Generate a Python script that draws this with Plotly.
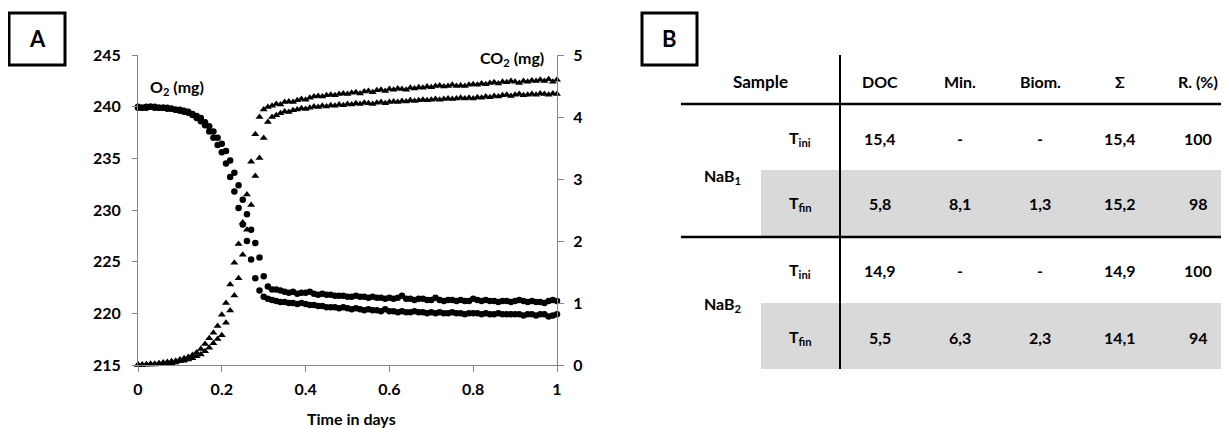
import plotly.graph_objects as go

W, H = 1229, 428

# ---------------- data ----------------
time_days = [0.00, 0.01, 0.02, 0.03, 0.04, 0.05, 0.06, 0.07, 0.08, 0.09,
             0.10, 0.11, 0.12, 0.13, 0.14, 0.15, 0.16, 0.17, 0.18, 0.19,
             0.20, 0.21, 0.22, 0.23, 0.24, 0.25, 0.26, 0.27, 0.28, 0.29,
             0.30, 0.31, 0.32, 0.33, 0.34, 0.35, 0.36, 0.37, 0.38, 0.39,
             0.40, 0.41, 0.42, 0.43, 0.44, 0.45, 0.46, 0.47, 0.48, 0.49,
             0.50, 0.51, 0.52, 0.53, 0.54, 0.55, 0.56, 0.57, 0.58, 0.59,
             0.60, 0.61, 0.62, 0.63, 0.64, 0.65, 0.66, 0.67, 0.68, 0.69,
             0.70, 0.71, 0.72, 0.73, 0.74, 0.75, 0.76, 0.77, 0.78, 0.79,
             0.80, 0.81, 0.82, 0.83, 0.84, 0.85, 0.86, 0.87, 0.88, 0.89,
             0.90, 0.91, 0.92, 0.93, 0.94, 0.95, 0.96, 0.97, 0.98, 0.99,
             1.00]

o2_rep1 = [239.9, 239.9, 239.9, 240.0, 239.9, 239.9, 239.9, 239.8, 239.8, 239.7,
           239.6, 239.5, 239.4, 239.2, 238.9, 238.6, 238.2, 237.6, 237.0, 236.3,
           235.6, 234.5, 233.2, 231.8, 230.2, 228.6, 227.0, 225.2, 223.4, 222.2,
           221.6, 221.4, 221.3, 221.2, 221.1, 221.1, 221.0, 221.0, 220.9, 221.0,
           220.9, 220.8, 220.8, 220.7, 220.7, 220.6, 220.6, 220.6, 220.5, 220.6,
           220.5, 220.4, 220.5, 220.4, 220.3, 220.4, 220.3, 220.3, 220.2, 220.4,
           220.2, 220.2, 220.1, 220.2, 220.1, 220.1, 220.2, 220.1, 220.1, 220.0,
           220.1, 220.0, 220.1, 220.0, 220.0, 220.1, 220.0, 220.0, 219.9, 220.0,
           220.0, 220.0, 219.9, 220.0, 219.9, 219.9, 220.0, 219.9, 219.9, 219.9,
           219.9, 219.9, 219.8, 219.9, 219.9, 219.8, 219.9, 219.9, 219.7, 219.8,
           219.9]

o2_rep2 = [240.0, 239.9, 240.0, 240.0, 240.0, 239.9, 239.9, 239.9, 239.8, 239.7,
           239.7, 239.6, 239.5, 239.3, 239.1, 238.9, 238.5, 238.1, 237.6, 237.0,
           236.4, 235.7, 234.8, 233.6, 232.4, 231.0, 229.6, 228.1, 226.8, 225.4,
           223.6, 222.6, 222.3, 222.3, 222.2, 222.1, 222.0, 222.1, 221.9, 222.0,
           222.0, 222.1, 221.9, 221.8, 221.9, 221.8, 221.8, 221.7, 221.7, 221.7,
           221.6, 221.6, 221.7, 221.6, 221.6, 221.5, 221.6, 221.5, 221.5, 221.4,
           221.5, 221.4, 221.5, 221.7, 221.4, 221.4, 221.3, 221.4, 221.4, 221.3,
           221.3, 221.5, 221.3, 221.2, 221.3, 221.3, 221.2, 221.3, 221.2, 221.2,
           221.4, 221.3, 221.2, 221.3, 221.2, 221.2, 221.1, 221.2, 221.2, 221.1,
           221.2, 221.3, 221.2, 221.1, 221.2, 221.1, 221.1, 221.0, 221.2, 221.3,
           221.2]

co2_rep1 = [0.01, 0.01, 0.01, 0.02, 0.02, 0.03, 0.04, 0.05, 0.06, 0.07,
            0.09, 0.11, 0.13, 0.16, 0.20, 0.26, 0.34, 0.43, 0.52, 0.63,
            0.81, 1.00, 1.30, 1.65, 1.95, 2.30, 2.75, 3.28, 3.72, 4.00,
            4.12, 4.16, 4.18, 4.21, 4.20, 4.24, 4.25, 4.24, 4.27, 4.29,
            4.28, 4.31, 4.33, 4.34, 4.33, 4.35, 4.36, 4.35, 4.37, 4.38,
            4.37, 4.39, 4.40, 4.38, 4.41, 4.42, 4.40, 4.43, 4.44, 4.42,
            4.45, 4.44, 4.46, 4.45, 4.44, 4.47, 4.46, 4.48, 4.47, 4.49,
            4.48, 4.50, 4.51, 4.49, 4.50, 4.52, 4.50, 4.51, 4.50, 4.52,
            4.53, 4.52, 4.54, 4.53, 4.55, 4.56, 4.54, 4.57, 4.56, 4.58,
            4.57, 4.55, 4.58, 4.57, 4.59, 4.58, 4.60, 4.58, 4.61, 4.57,
            4.60]

co2_rep2 = [0.00, 0.00, 0.01, 0.01, 0.01, 0.02, 0.02, 0.03, 0.03, 0.04,
            0.06, 0.07, 0.09, 0.11, 0.14, 0.17, 0.22, 0.28, 0.35, 0.42,
            0.48, 0.68, 0.88, 1.12, 1.40, 1.78, 2.18, 2.58, 3.05, 3.34,
            3.66, 3.92, 4.00, 4.03, 4.06, 4.09, 4.08, 4.11, 4.12, 4.14,
            4.13, 4.15, 4.17, 4.16, 4.18, 4.17, 4.19, 4.18, 4.20, 4.19,
            4.21, 4.20, 4.22, 4.21, 4.23, 4.22, 4.21, 4.23, 4.24, 4.22,
            4.24, 4.25, 4.24, 4.26, 4.25, 4.27, 4.26, 4.27, 4.28, 4.27,
            4.28, 4.29, 4.28, 4.29, 4.30, 4.29, 4.30, 4.31, 4.30, 4.31,
            4.30, 4.32, 4.31, 4.33, 4.32, 4.34, 4.33, 4.35, 4.36, 4.34,
            4.36, 4.37, 4.35, 4.36, 4.37, 4.36, 4.38, 4.37, 4.36, 4.38,
            4.37]

x_ticks = [0, 0.2, 0.4, 0.6, 0.8, 1]
x_tick_text = ["0", "0.2", "0.4", "0.6", "0.8", "1"]
o2_ticks = [215, 220, 225, 230, 235, 240, 245]
co2_ticks = [0, 1, 2, 3, 4, 5]

# table B
table_header = ["Sample", "DOC", "Min.", "Biom.", "\u03a3", "R. (%)"]
samples = ["NaB<sub>1</sub>", "NaB<sub>2</sub>"]
time_points = ["T<sub>ini</sub>", "T<sub>fin</sub>", "T<sub>ini</sub>", "T<sub>fin</sub>"]
doc_vals = ["15,4", "5,8", "14,9", "5,5"]
min_vals = ["-", "8,1", "-", "6,3"]
biom_vals = ["-", "1,3", "-", "2,3"]
sum_vals = ["15,4", "15,2", "14,9", "14,1"]
recovery_vals = ["100", "98", "100", "94"]

# ---------------- figure ----------------
FONT = "Lato"
AX = "#868686"
FS = 16
OFF = 8  # the page body adds an 8px margin; compensate so the picture lands in place


def px(x):
    return (x - OFF) / W


def py(y):
    return 1 - (y - OFF) / H


fig = go.Figure()

mk_c = dict(symbol="circle", size=6.5, color="black", line=dict(width=0))
mk_t = dict(symbol="triangle-up", size=7, color="black", line=dict(width=0))

fig.add_trace(go.Scatter(x=time_days, y=co2_rep1, mode="markers", marker=mk_t,
                         yaxis="y2", cliponaxis=False, showlegend=False))
fig.add_trace(go.Scatter(x=time_days, y=co2_rep2, mode="markers", marker=mk_t,
                         yaxis="y2", cliponaxis=False, showlegend=False))
fig.add_trace(go.Scatter(x=time_days, y=o2_rep1, mode="markers", marker=mk_c,
                         cliponaxis=False, showlegend=False))
fig.add_trace(go.Scatter(x=time_days, y=o2_rep2, mode="markers", marker=mk_c,
                         cliponaxis=False, showlegend=False))

tickfont = dict(family=FONT, size=FS, color="black", weight="bold")

fig.update_layout(
    width=W, height=H, autosize=False,
    margin=dict(l=0, r=0, t=0, b=0, autoexpand=False),
    paper_bgcolor="white", plot_bgcolor="white",
    xaxis=dict(domain=[px(138), px(557)], range=[0, 1], tickvals=x_ticks,
               ticktext=x_tick_text, ticks="outside", ticklen=6, tickcolor=AX,
               showline=True, linecolor=AX, linewidth=1, showgrid=False,
               zeroline=False, tickfont=tickfont, anchor="y", automargin=False,
               ticklabelstandoff=4),
    yaxis=dict(domain=[py(365), py(55)], range=[215, 245], tickvals=o2_ticks,
               ticks="outside", ticklen=5, tickcolor=AX, showline=True,
               linecolor=AX, linewidth=1, showgrid=False, zeroline=False,
               tickfont=tickfont, anchor="x", ticklabelstandoff=8, automargin=False),
    yaxis2=dict(overlaying="y", side="right", anchor="x", range=[0, 5],
                domain=[py(365), py(55)],
                tickvals=co2_ticks, ticks="outside", ticklen=6, tickcolor=AX,
                showline=True, linecolor=AX, linewidth=1, showgrid=False,
                zeroline=False, tickfont=tickfont, ticklabelstandoff=6,
                automargin=False),
)

anns = []
shapes = []


def text(x, y, s, size=FS, xanchor="center"):
    anns.append(dict(x=px(x), y=py(y), xref="paper", yref="paper", text=s,
                     showarrow=False, xanchor=xanchor, yanchor="middle",
                     font=dict(family=FONT, size=size, color="black", weight="bold")))


# axis titles / labels
text(351, 418, "Time in days")
text(148, 87, "O<sub>2</sub> (mg)", xanchor="left")
text(546, 59, "CO<sub>2</sub> (mg)", xanchor="right")

# panel labels
for (x0, x1, lab) in [(9, 65, "A"), (642, 697, "B")]:
    shapes.append(dict(type="rect", xref="paper", yref="paper",
                       x0=px(x0), x1=px(x1), y0=py(65), y1=py(13),
                       line=dict(color="black", width=3), fillcolor="rgba(0,0,0,0)"))
    text((x0 + x1) / 2, 39, lab, size=22)

# table shading
for (y0, y1) in [(170, 237), (303, 369)]:
    shapes.append(dict(type="rect", xref="paper", yref="paper", layer="below",
                       x0=px(761), x1=px(1240), y0=py(y1), y1=py(y0),
                       line=dict(width=0), fillcolor="#d9d9d9"))
# table rules
shapes.append(dict(type="line", xref="paper", yref="paper", x0=px(840), x1=px(840),
                   y0=py(369), y1=py(55), line=dict(color="black", width=2)))
for yy in [104, 237]:
    shapes.append(dict(type="line", xref="paper", yref="paper", x0=px(681), x1=px(1240),
                       y0=py(yy), y1=py(yy), line=dict(color="black", width=2.5)))

col_x = [760, 880, 960, 1040, 1120, 1198]
for cx, h in zip(col_x, table_header):
    text(cx, 82, h, size=17 if h == "Sample" else FS)

row_y = [138, 204, 270, 337]
sample_y = [176, 304]
for sy, s in zip(sample_y, samples):
    text(722, sy, s)
for i, ry in enumerate(row_y):
    text(800, ry, time_points[i])
    text(col_x[1], ry, doc_vals[i])
    text(col_x[2], ry, min_vals[i])
    text(col_x[3], ry, biom_vals[i])
    text(col_x[4], ry, sum_vals[i])
    text(col_x[5], ry, recovery_vals[i])

fig.update_layout(annotations=anns, shapes=shapes)
fig.write_html("out.html")
